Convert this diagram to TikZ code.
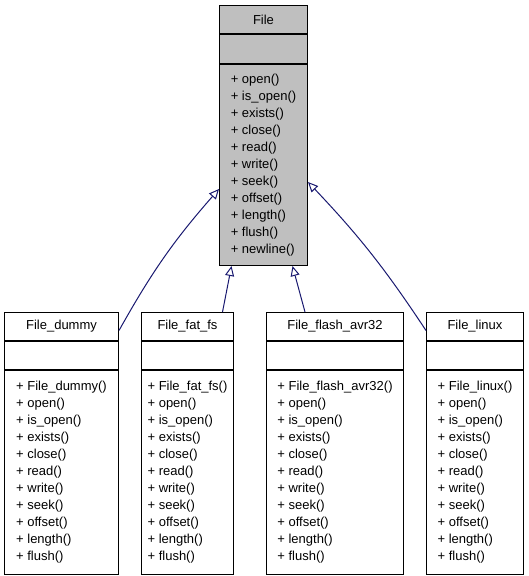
\documentclass[tikz,border=0pt]{standalone}
\usepackage{fontspec}
\setmainfont{Liberation Sans}
\usetikzlibrary{arrows.meta,positioning}
\definecolor{edgeblue}{HTML}{191970}
\definecolor{basegray}{HTML}{BFBFBF}
\newcommand{\fileops}{+ open()\\+ is\_open()\\+ exists()\\+ close()\\+ read()\\+ write()\\+ seek()\\+ offset()\\+ length()\\+ flush()}

\begin{document}
\begin{tikzpicture}[x=1pt,y=1pt,line width=1pt,
    font=\fontsize{13}{17}\selectfont,
    cls/.style={draw,inner sep=0pt,minimum width=#1},
    inherit/.style={edgeblue,-{Triangle[open,length=10pt,width=9pt]}}]
      \useasboundingbox (0,0) rectangle (528,-576);
      % base class
      \node[cls=88pt,fill=basegray,minimum height=28pt,anchor=north west] (file) at (219,-5) {File};
      \node[cls=88pt,fill=basegray,minimum height=29pt,below=0pt of file] (file-attr) {};
      \node[cls=88pt,fill=basegray,minimum height=201pt,align=left,below=0pt of file-attr] (file-ops) {\fileops\\+ newline()};
      % derived classes
      \foreach \n/\x/\w/\lbl in {dummy/4/114/File\_dummy,fatfs/141/92/File\_fat\_fs,flash/266/137/File\_flash\_avr32,linux/426/97/File\_linux} {
        \node[cls=\w pt,minimum height=28pt,anchor=north west] (\n) at (\x,-312) {\lbl};
        \node[cls=\w pt,minimum height=28pt,below=0pt of \n] (\n-attr) {};
        \node[cls=\w pt,minimum height=204pt,align=left,below=0pt of \n-attr] (\n-ops) {+ \lbl()\\\fileops};
      }
      \coordinate (tipl) at ([yshift=-24pt]file-ops.west);
      \coordinate (tipr) at ([yshift=-17pt]file-ops.east);
      \draw[inherit] ([yshift=-4pt]dummy.east) to[bend left=6] (tipl);
      \draw[inherit] ([xshift=35pt]fatfs.north) -- ([xshift=-32pt]file-ops.south);
      \draw[inherit] ([xshift=-30pt]flash.north) -- ([xshift=29pt]file-ops.south);
      \draw[inherit] ([yshift=-4pt]linux.west) to[bend right=5] (tipr);
    \end{tikzpicture}
\end{document}
